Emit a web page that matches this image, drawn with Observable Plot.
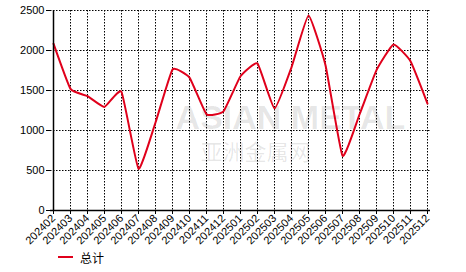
<!DOCTYPE html>
<html>
<head>
<meta charset="utf-8">
<script src="https://cdn.jsdelivr.net/npm/d3@7"></script>
<script src="https://cdn.jsdelivr.net/npm/@observablehq/plot@0.6"></script>
<style>
  body { margin: 0; background: #fff; font-family: "Liberation Sans", Arial, sans-serif; }
  #chart { width: 466px; }
  #chart svg { display: block; }
  .legend { height: 24px; padding-left: 58px; display: flex; align-items: center; font-size: 12px; color: #000; font-family: "Noto Sans CJK SC", sans-serif; }
  .legend .sw { width: 15px; height: 2px; background: #e0001b; margin-right: 7px; }
</style>
</head>
<body>
<div id="chart"></div>
<script>
const months = ["202402","202403","202404","202405","202406","202407","202408","202409","202410","202411","202412","202501","202502","202503","202504","202505","202506","202507","202508","202509","202510","202511","202512"];
const totals = [2085, 1520, 1430, 1295, 1483, 522, 1100, 1762, 1662, 1204, 1240, 1678, 1837, 1275, 1790, 2438, 1816, 684, 1200, 1754, 2075, 1866, 1337];
const yTicks = [0, 500, 1000, 1500, 2000, 2500];
const seriesName = "总计";

const data = months.map((m, i) => ({month: m, value: totals[i]}));

const plot = Plot.plot({
  width: 466,
  height: 245,
  marginLeft: 50,
  marginRight: 36,
  marginTop: 10,
  marginBottom: 35,
  style: {fontFamily: "'Liberation Sans', Arial, sans-serif", fontSize: "11px", color: "#000", background: "#fff"},
  x: {type: "point", domain: months, padding: 0},
  y: {domain: [0, 2500]},
  marks: [
    Plot.text(["ASIAN METAL"], {frameAnchor: "middle", dx: 50, dy: 8, fill: "#000", fillOpacity: 0.1, fontSize: 34, fontWeight: "bold"}),
    Plot.text(["亚洲金属网"], {frameAnchor: "middle", dx: 15, dy: 42, fill: "#000", fillOpacity: 0.1, fontSize: 22, fontFamily: "Noto Sans CJK SC"}),
    Plot.gridY(yTicks, {stroke: "#000", strokeOpacity: 1, strokeDasharray: "1.5,1.5"}),
    Plot.gridX(months, {stroke: "#000", strokeOpacity: 1, strokeDasharray: "1.5,1.5"}),
    Plot.line(data, {x: "month", y: "value", stroke: "#e0001b", strokeWidth: 2, curve: "cardinal", tension: 0.6}),
    Plot.ruleX([months[0]], {stroke: "#000", strokeWidth: 1.5}),
    Plot.ruleY([0], {stroke: "#000", strokeWidth: 1.5}),
    Plot.axisY(yTicks, {tickSize: 4, tickPadding: 2, label: null, fontSize: 11, tickFormat: d => String(d)}),
    Plot.axisX(months, {tickSize: 4, tickRotate: -45, tickPadding: 2, label: null, fontSize: 11})
  ]
});

const chart = document.getElementById("chart");
chart.appendChild(plot);
const legend = document.createElement("div");
legend.className = "legend";
legend.innerHTML = `<span class="sw"></span><span>${seriesName}</span>`;
chart.appendChild(legend);
</script>
</body>
</html>
